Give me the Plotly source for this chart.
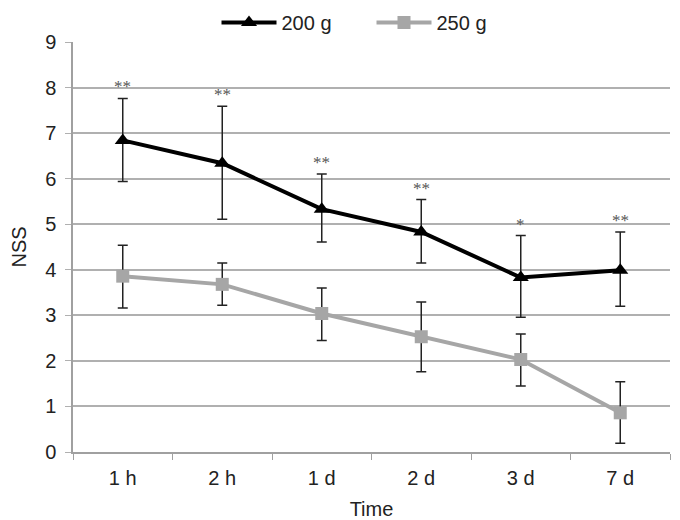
import plotly.graph_objects as go

categories = ["1 h", "2 h", "1 d", "2 d", "3 d", "7 d"]

mean_200 = [6.84, 6.34, 5.33, 4.83, 3.83, 3.99]
upper_200 = [7.76, 7.59, 6.10, 5.54, 4.75, 4.83]
lower_200 = [5.94, 5.11, 4.61, 4.15, 2.96, 3.20]

mean_250 = [3.86, 3.68, 3.04, 2.53, 2.03, 0.86]
upper_250 = [4.54, 4.15, 3.60, 3.29, 2.59, 1.54]
lower_250 = [3.16, 3.22, 2.45, 1.76, 1.45, 0.19]

significance = ["**", "**", "**", "**", "*", "**"]

y_ticks = [0, 1, 2, 3, 4, 5, 6, 7, 8, 9]

FONT = "Liberation Sans, Arial, sans-serif"
FS = 20


def err(mean, up, lo):
    return dict(type="data", symmetric=False,
                array=[u - m for u, m in zip(up, mean)],
                arrayminus=[m - l for m, l in zip(mean, lo)],
                color="#222222", thickness=1.5, width=5)


fig = go.Figure()
fig.add_trace(go.Scatter(
    x=categories, y=mean_200, name="200 g", mode="lines+markers",
    line=dict(color="#000000", width=4),
    marker=dict(symbol="triangle-up", size=14, color="#000000"),
    error_y=err(mean_200, upper_200, lower_200),
))
fig.add_trace(go.Scatter(
    x=categories, y=mean_250, name="250 g", mode="lines+markers",
    line=dict(color="#a6a6a6", width=4),
    marker=dict(symbol="square", size=13, color="#a6a6a6"),
    error_y=err(mean_250, upper_250, lower_250),
))

for c, u, s in zip(categories, upper_200, significance):
    fig.add_annotation(x=c, y=u, text=s, showarrow=False, yanchor="bottom",
                       yshift=0, font=dict(family="Liberation Serif, serif", size=17, color="#555555"))

fig.update_layout(
    width=680, height=520,
    margin=dict(l=65, r=18, t=34, b=76, autoexpand=False),
    paper_bgcolor="white", plot_bgcolor="white",
    font=dict(family=FONT, size=FS, color="#222222"),
    showlegend=True,
    legend=dict(orientation="h", x=0.5, xanchor="center", y=1.0, yanchor="bottom",
                yref="paper", font=dict(size=FS, color="#222222"),
                itemwidth=55, entrywidth=85, bgcolor="rgba(0,0,0,0)",
                borderwidth=0, tracegroupgap=0),
    xaxis=dict(
        title=dict(text="Time", font=dict(size=FS), standoff=14),
        type="category", showgrid=False, showline=True, linecolor="#a0a0a0", linewidth=1.5,
        ticks="outside", tickson="boundaries", ticklen=6, tickcolor="#a0a0a0",
        tickfont=dict(size=FS), range=[-0.5, 5.5], ticklabelstandoff=7,
    ),
    yaxis=dict(
        title=dict(text="NSS", font=dict(size=FS), standoff=25),
        range=[0, 9], tickvals=y_ticks, showgrid=True, gridcolor="#b0b0b0", gridwidth=1.5,
        showline=True, linecolor="#a0a0a0", linewidth=1.5,
        ticks="outside", ticklen=6, tickcolor="#b0b0b0", tickfont=dict(size=FS),
        zeroline=False, ticklabelstandoff=5,
    ),
)

fig.write_html("out.html")
